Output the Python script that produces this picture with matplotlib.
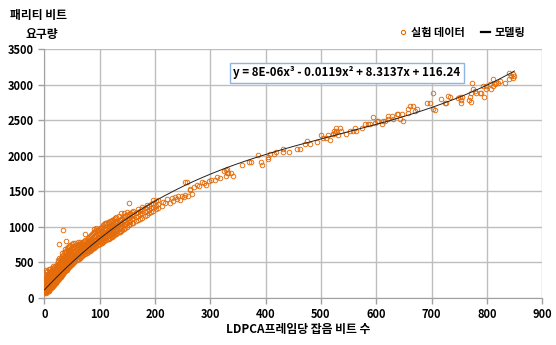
import matplotlib
matplotlib.use("Agg")
import matplotlib.pyplot as plt
import numpy as np
from matplotlib.lines import Line2D

plt.rcParams["font.family"] = ["Noto Sans CJK KR", "DejaVu Sans"]

# dense band (0-205): column x and the y values read in that column
dense_x = [0, 1, 2, 3, 4, 5, 6, 7, 8, 9, 10, 11, 12, 13, 14, 15, 16, 17, 18, 19,
           20, 21, 22, 23, 24, 25, 26, 27, 28, 29, 30, 31, 32, 33, 34, 35, 36, 37,
           38, 39, 40, 41, 42, 43, 44, 45, 46, 47, 48, 49, 50, 52, 54, 56, 58, 60,
           62, 64, 66, 68, 70, 72, 74, 76, 78, 80, 82, 84, 86, 88, 90, 92, 94, 96,
           98, 100, 102, 104, 106, 108, 110, 112, 114, 116, 118, 120, 122, 124,
           126, 128, 130, 132, 134, 136, 138, 140, 143, 146, 149, 152, 155, 158,
           161, 165, 169, 173, 177, 181, 185, 189, 193, 197, 201, 205]
dense_y = [
    [70, 95, 120, 150, 210, 280], [85, 110, 175, 240, 330], [75, 100, 130, 190, 260, 370],
    [90, 125, 160, 220, 300, 390], [80, 115, 145, 200, 250, 330], [100, 140, 180, 230, 290, 380],
    [95, 130, 170, 215, 270, 340], [110, 150, 195, 245, 310], [105, 140, 185, 235, 280, 360, 405],
    [120, 165, 210, 260, 320], [125, 160, 200, 250, 300, 350, 410], [140, 185, 230, 285, 340],
    [135, 175, 220, 265, 310, 380], [150, 200, 245, 290, 350, 420], [160, 195, 240, 280, 330, 390],
    [170, 215, 255, 300, 360], [175, 210, 250, 295, 345, 410, 450], [190, 230, 275, 320, 380],
    [195, 240, 285, 330, 370, 430], [205, 250, 290, 340, 400], [210, 255, 300, 345, 395, 450],
    [225, 265, 310, 360, 420], [235, 280, 320, 370, 430, 480], [245, 290, 335, 380, 445],
    [250, 295, 340, 390, 440, 500], [265, 305, 355, 400, 460, 530], [270, 315, 360, 410, 470],
    [285, 330, 375, 420, 480, 560], [290, 335, 385, 430, 490, 540], [300, 350, 395, 445, 510],
    [310, 355, 400, 455, 500, 570], [325, 365, 415, 460, 520], [330, 375, 425, 475, 530, 590, 640],
    [340, 385, 430, 480, 540], [350, 395, 445, 495, 550, 610], [360, 405, 455, 505, 565, 650],
    [370, 415, 460, 515, 570], [375, 420, 470, 520, 580, 640, 690], [385, 435, 480, 530, 595],
    [395, 440, 490, 545, 600, 660], [400, 450, 500, 550, 610, 700], [410, 460, 505, 560, 620],
    [420, 470, 515, 570, 625, 680], [430, 475, 525, 580, 640, 720], [435, 485, 530, 585, 650],
    [445, 490, 540, 595, 655, 730], [455, 500, 550, 600, 665], [460, 505, 560, 610, 670, 740],
    [470, 515, 565, 620, 680], [475, 525, 575, 625, 690, 760], [480, 530, 580, 635, 700],
    [495, 545, 595, 645, 710, 770], [505, 555, 605, 660, 720], [520, 570, 620, 670, 730, 775],
    [530, 580, 630, 685, 740], [545, 590, 640, 695, 750, 785], [555, 605, 655, 705, 760],
    [570, 615, 665, 715, 765, 790], [580, 630, 675, 725, 775], [590, 640, 690, 735, 780],
    [600, 650, 700, 745, 790], [615, 660, 710, 755, 800], [625, 670, 720, 765, 810],
    [635, 680, 730, 775, 820], [645, 695, 740, 785, 840], [655, 705, 750, 800, 860],
    [665, 715, 760, 810, 870], [680, 725, 775, 825, 880], [690, 735, 785, 835, 900],
    [700, 745, 795, 845, 920], [710, 760, 805, 855, 930, 975], [720, 770, 815, 870, 940],
    [735, 780, 830, 880, 950, 990], [745, 790, 840, 895, 960], [755, 800, 850, 905, 970],
    [765, 810, 860, 915, 980], [770, 820, 870, 925, 990], [780, 830, 880, 935, 1000],
    [790, 840, 890, 945, 1020], [800, 850, 900, 955, 1040], [810, 860, 910, 965, 1050],
    [820, 870, 920, 975, 1060], [830, 880, 930, 985, 1070], [835, 890, 940, 995, 1060],
    [845, 900, 950, 1005, 1080], [855, 905, 960, 1015, 1090], [865, 915, 970, 1025, 1095],
    [875, 925, 980, 1035, 1100], [885, 935, 990, 1045, 1110], [895, 945, 1000, 1050, 1120],
    [905, 955, 1010, 1060, 1135], [915, 965, 1020, 1075], [925, 975, 1030, 1085, 1150],
    [935, 985, 1040, 1095], [945, 1000, 1050, 1110, 1190], [955, 1010, 1060, 1120],
    [970, 1025, 1080, 1140, 1200], [985, 1040, 1095, 1150], [1000, 1055, 1110, 1170, 1215],
    [1020, 1075, 1130, 1185], [1035, 1090, 1145, 1200], [1050, 1105, 1160, 1210],
    [1060, 1120, 1175, 1225], [1080, 1140, 1195], [1100, 1160, 1215, 1255],
    [1115, 1175, 1230], [1130, 1190, 1250, 1280], [1150, 1205, 1265],
    [1170, 1220, 1280, 1305], [1190, 1240, 1300], [1210, 1260, 1320],
    [1230, 1280, 1340, 1380], [1250, 1300, 1360], [1270, 1320, 1375],
]

# sparse points beyond the band
sparse_x = [212, 215, 218, 222, 227, 230, 233, 236, 240, 242, 245, 248, 252, 255, 257, 260,
            263, 266, 270, 275, 280, 284, 288, 293, 297, 302, 308, 312, 318, 324, 329, 331,
            330, 332, 328, 338, 341, 357, 370, 374, 387, 391, 394, 404, 405, 408, 415, 419,
            431, 432, 443, 456, 462, 471, 475, 480, 492, 501, 503, 509, 513, 516, 522, 525,
            528, 531, 521, 523, 528, 534, 537, 546, 552, 558, 561, 564, 574, 580, 586, 589,
            595, 598, 601, 604, 610, 613, 616, 622, 622, 628, 631, 637, 640, 646, 643, 649,
            658, 661, 667, 658, 670, 673, 691, 697, 703, 702, 706, 718, 727, 730, 733, 724,
            748, 751, 754, 754, 756, 768, 772, 769, 772, 774, 775, 778, 781, 787, 790, 795,
            793, 799, 799, 805, 808, 811, 811, 814, 817, 820, 823, 832, 841, 844, 847, 841,
            850, 848]
sparse_y = [1300, 1350, 1335, 1390, 1335, 1400, 1358, 1420, 1395, 1429, 1382, 1440, 1420,
            1450, 1626, 1440, 1533, 1460, 1560, 1590, 1575, 1626, 1610, 1594, 1640, 1660,
            1664, 1700, 1690, 1781, 1805, 1758, 1815, 1759, 1720, 1759, 1720, 1866, 1908,
            1908, 2017, 1908, 1866, 1960, 1984, 2027, 2027, 2055, 2101, 2055, 2055, 2101,
            2101, 2172, 2205, 2172, 2196, 2285, 2252, 2252, 2285, 2219, 2299, 2323, 2346,
            2285, 2299, 2346, 2393, 2393, 2346, 2299, 2346, 2346, 2393, 2346, 2393, 2440,
            2440, 2440, 2543, 2464, 2487, 2487, 2440, 2487, 2487, 2511, 2557, 2557, 2511,
            2581, 2581, 2581, 2511, 2487, 2605, 2698, 2698, 2652, 2628, 2652, 2736, 2736,
            2877, 2652, 2642, 2793, 2746, 2839, 2831, 2736, 2807, 2831, 2783, 2736, 2831,
            2783, 2760, 2831, 2887, 3018, 2934, 2910, 2887, 2887, 2887, 2831, 2980, 2980,
            2934, 3004, 2934, 2980, 3075, 3004, 3028, 3028, 3051, 3018, 3169, 3121, 3098,
            3075, 3121, 3150]

# outliers above the band
outlier_x = [34, 27, 39, 73, 152, 254, 263]
outlier_y = [950, 757, 804, 903, 1336, 1632, 1523]

# trendline coefficients (cubic, highest power first)
fit_coef = [7.5e-06, -0.0119, 8.3137, 116.24]
fit_label = "y = 8E-06x³ - 0.0119x² + 8.3137x + 116.24"

orange = "#E46C0A"

xs = np.concatenate([np.repeat(dense_x, [len(c) for c in dense_y]), sparse_x, outlier_x])
ys = np.concatenate([np.concatenate(dense_y), sparse_y, outlier_y])

fig = plt.figure(figsize=(5.56, 3.45), dpi=100)
ax = fig.add_axes([0.080, 0.136, 0.895, 0.722])

ax.plot(xs, ys, linestyle="none", marker="o", markersize=3.3, markerfacecolor="none",
        markeredgecolor=orange, markeredgewidth=0.65, zorder=3)

xf = np.linspace(0, 850, 300)
ax.plot(xf, np.polyval(fit_coef, xf), color="#222222", lw=0.7, zorder=4)

ax.set_xlim(0, 900)
ax.set_ylim(0, 3500)
ax.set_xticks(np.arange(0, 901, 100))
ax.set_yticks(np.arange(0, 3501, 500))
ax.grid(True, color="#BEBEBE", lw=1.0)
ax.set_axisbelow(True)
for side in ["top", "right"]:
    ax.spines[side].set_visible(False)
for side in ["left", "bottom"]:
    ax.spines[side].set_color("#A0A0A0")
ax.tick_params(colors="#A0A0A0", length=4, width=1.0, labelcolor="black", labelsize=8)
for lbl in ax.get_xticklabels() + ax.get_yticklabels():
    lbl.set_fontweight("bold")

fig.text(0.018, 0.955, "패리티 비트", fontsize=8.5, fontweight="bold", va="center", ha="left")
fig.text(0.046, 0.900, "요구량", fontsize=8.5, fontweight="bold", va="center", ha="left")
fig.text(0.537, 0.045, "LDPCA프레임당 잡음 비트 수", fontsize=8.5, fontweight="bold",
         va="center", ha="center")

ax.text(0.608, 0.904, fit_label, transform=ax.transAxes, ha="center", va="center",
        fontsize=8.3, fontweight="bold",
        bbox=dict(boxstyle="square,pad=0.3", fc="white", ec="#8EB4E3", lw=1.0), zorder=6)

handles = [Line2D([], [], linestyle="none", marker="o", markersize=3.0, markerfacecolor="none",
                  markeredgecolor=orange, markeredgewidth=0.8),
           Line2D([], [], color="black", lw=1.6)]
fig.legend(handles, ["실험 데이터", "모델링"], loc="center right", bbox_to_anchor=(0.962, 0.905),
           ncol=2, frameon=False, handlelength=0.8, handletextpad=0.4,
           columnspacing=1.4, prop={"weight": "bold", "size": 8})

fig.savefig("out.png", dpi=100)
